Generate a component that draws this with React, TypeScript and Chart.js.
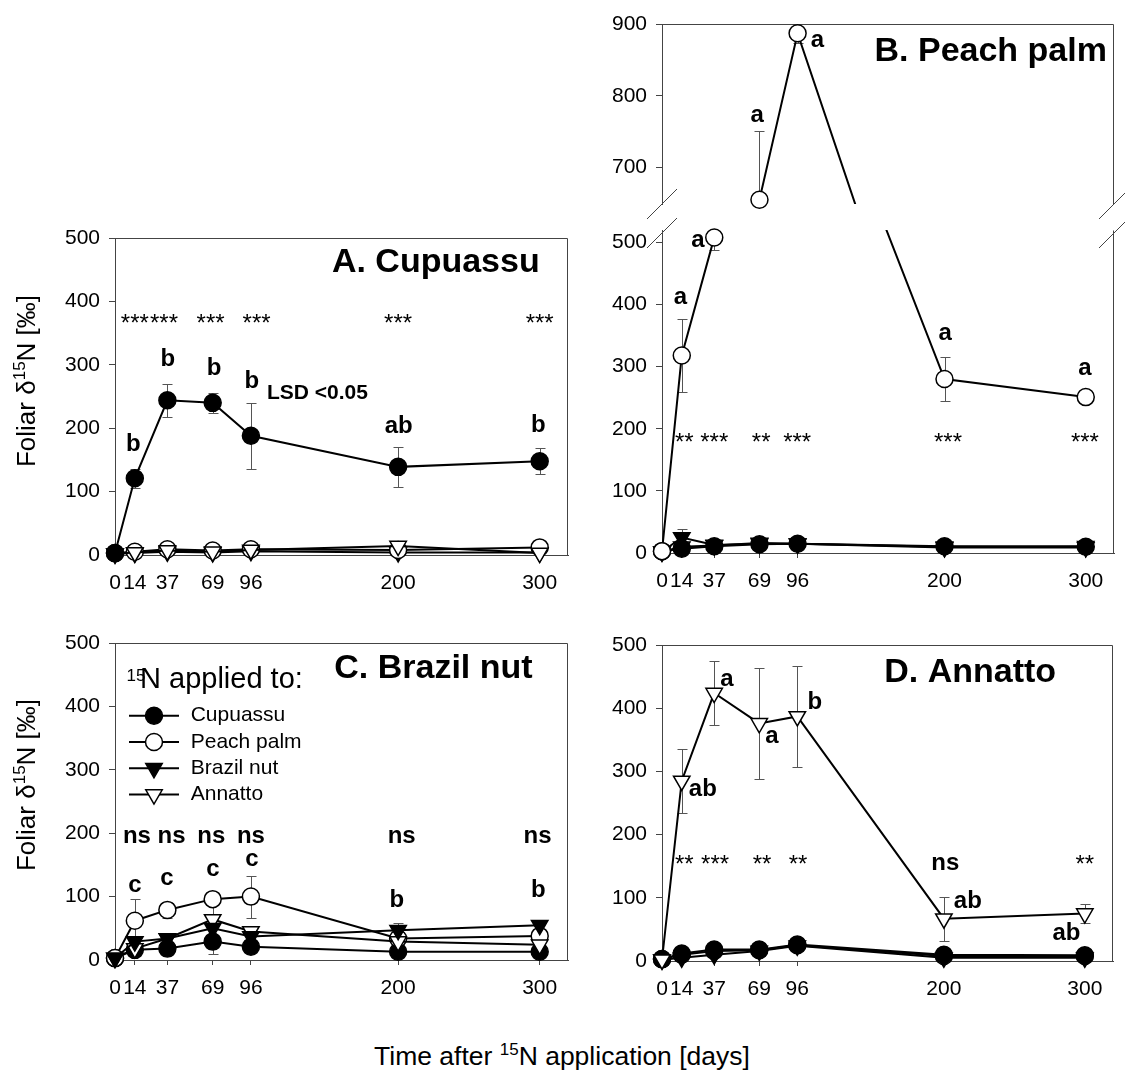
import React, { useEffect, useRef } from 'react';
import { Chart, registerables } from 'chart.js';

Chart.register(...registerables);

const FONT = '"Liberation Sans", Arial, Helvetica, sans-serif';

// ---------------- data ----------------
const days = [0, 14, 37, 69, 96, 200, 300];
const xTickValues = [0, 14, 37, 69, 96, 200, 300];
const yTickValues = [0, 100, 200, 300, 400, 500];
const yTickValuesBreakTop = [700, 800, 900];
const seriesNames = ['Cupuassu', 'Peach palm', 'Brazil nut', 'Annatto'];

const xRange = [0, 320];
const yRange = [0, 500];
const bLowerRange = [0, 520];
const bUpperRange = [649, 900];

// Panel A – Cupuassu leaves
const aCupuassu = [3, 121, 244, 240, 188, 139, 148];
const aCupuassuErr = [0, 15, 26, 16, 52, 31, 21];
const aPeach = [3, 5, 9, 7, 9, 8, 12];
const aBrazil = [2, 3, 5, 4, 6, 4, 4];
const aAnnatto = [2, 4, 7, 5, 8, 14, 3];

// Panel B – Peach palm leaves
const bCupuassu = [3, 7, 11, 14, 15, 11, 10];
const bPeach = [3, 318, 508, 655, 887, 280, 251];
const bPeachErr = [0, 58, 20, 96, 13, 35, 0];
const bBrazil = [2, 25, 13, 15, 15, 10, 11];
const bBrazilErr = [0, 13, 0, 0, 0, 0, 0];
const bAnnatto = [2, 10, 12, 16, 15, 9, 9];

// Panel C – Brazil nut leaves
const cCupuassu = [3, 16, 18, 29, 21, 13, 13];
const cCupuassuErr = [0, 0, 0, 20, 0, 0, 0];
const cPeach = [3, 62, 79, 96, 100, 34, 38];
const cPeachErr = [0, 34, 13, 0, 33, 0, 0];
const cBrazil = [3, 29, 34, 50, 37, 47, 55];
const cBrazilErr = [0, 0, 0, 0, 0, 12, 0];
const cAnnatto = [3, 18, 34, 64, 45, 29, 24];
const cAnnattoErr = [0, 0, 0, 28, 0, 0, 0];

// Panel D – Annatto leaves
const dCupuassu = [3, 12, 18, 18, 26, 10, 9];
const dPeach = [3, 10, 16, 17, 25, 8, 8];
const dBrazil = [2, 5, 10, 16, 24, 5, 5];
const dAnnatto = [2, 285, 424, 376, 387, 67, 75];
const dAnnattoErr = [0, 51, 50, 88, 80, 35, 15];

// annotations: [x (days), y (value), text, kind]
const annA = [
  [14, 371, '***', 'star'], [34.6, 371, '***', 'star'], [67.5, 371, '***', 'star'],
  [100, 371, '***', 'star'], [200, 371, '***', 'star'], [300, 371, '***', 'star'],
  [13, 174, 'b', 'letter'], [37.4, 308, 'b', 'letter'], [70, 295, 'b', 'letter'],
  [96.7, 274, 'b', 'letter'], [200.4, 203, 'ab', 'letter'], [299, 205, 'b', 'letter'],
  [143, 255, 'LSD <0.05', 'lsd'],
  [300, 460.5, 'A. Cupuassu', 'title'],
];
const annBUpper = [
  [67.4, 773, 'a', 'letter'], [110, 877, 'a', 'letter'],
  [315, 861, 'B. Peach palm', 'title'],
];
const annBLower = [
  [15.8, 185, '**', 'star'], [37, 185, '***', 'star'], [70.2, 185, '**', 'star'],
  [95.7, 185, '***', 'star'], [202.5, 185, '***', 'star'], [299.4, 185, '***', 'star'],
  [13, 411, 'a', 'letter'], [25.5, 503, 'a', 'letter'], [200.4, 353, 'a', 'letter'], [299.4, 297, 'a', 'letter'],
];
const annC = [
  [15.5, 195, 'ns', 'letter'], [40, 195, 'ns', 'letter'], [68, 195, 'ns', 'letter'],
  [96, 195, 'ns', 'letter'], [202.5, 195, 'ns', 'letter'], [298.5, 195, 'ns', 'letter'],
  [14.1, 117, 'c', 'letter'], [36.7, 129, 'c', 'letter'], [69.2, 143, 'c', 'letter'], [96.7, 158, 'c', 'letter'],
  [199, 94, 'b', 'letter'], [299, 110, 'b', 'letter'],
  [295, 460, 'C. Brazil nut', 'title'],
];
const annD = [
  [15.8, 160, '**', 'star'], [37.7, 160, '***', 'star'], [71, 160, '**', 'star'],
  [96.5, 160, '**', 'star'], [300, 160, '**', 'star'], [201, 155, 'ns', 'letter'],
  [29, 272, 'ab', 'letter'], [46, 445, 'a', 'letter'], [78, 355, 'a', 'letter'],
  [108.4, 410, 'b', 'letter'], [217, 95, 'ab', 'letter'], [287, 44, 'ab', 'letter'],
  [279.6, 457, 'D. Annatto', 'title'],
];

// ---------------- styles ----------------
const STYLE: any = {
  'Cupuassu': { pointStyle: 'circle', rotation: 0, fill: '#000', radius: 8.5 },
  'Peach palm': { pointStyle: 'circle', rotation: 0, fill: '#fff', radius: 8.5 },
  'Brazil nut': { pointStyle: 'triangle', rotation: 180, fill: '#000', radius: 9.5 },
  'Annatto': { pointStyle: 'triangle', rotation: 180, fill: '#fff', radius: 9.5 },
};
const KIND: any = {
  star: { font: `24px ${FONT}`, align: 'center', dy: 5 },
  letter: { font: `bold 24px ${FONT}`, align: 'center', dy: 0 },
  lsd: { font: `bold 21px ${FONT}`, align: 'center', dy: 0 },
  title: { font: `bold 34px ${FONT}`, align: 'right', dy: 0 },
};
const AXIS_COLOR = '#444';
const YW = 60;
const XH = 45;

function pts(vals: number[], errs?: number[] | null) {
  return vals.map((v, i) => ({ x: days[i], y: v, e: errs ? errs[i] : 0 }));
}

function ds(name: string, data: any[], order: number, extra: any = {}) {
  const s = STYLE[name];
  return {
    label: name,
    data,
    borderColor: '#000',
    borderWidth: 2,
    pointStyle: s.pointStyle,
    pointRotation: s.rotation,
    pointRadius: s.radius,
    pointHoverRadius: s.radius,
    pointBackgroundColor: s.fill,
    pointBorderColor: '#000',
    pointBorderWidth: 1.5,
    tension: 0,
    clip: false,
    order,
    ...extra,
  };
}

// ---------------- plugins ----------------
const errorBarPlugin = {
  id: 'errbars',
  beforeDatasetsDraw(chart: any) {
    const { ctx, chartArea: a } = chart;
    ctx.save();
    ctx.beginPath();
    ctx.rect(a.left - 6, a.top, a.right - a.left + 12, a.bottom - a.top);
    ctx.clip();
    ctx.strokeStyle = '#555';
    ctx.lineWidth = 1;
    chart.data.datasets.forEach((d: any, di: number) => {
      if (!chart.isDatasetVisible(di)) return;
      const meta = chart.getDatasetMeta(di);
      const xs = chart.scales[meta.xAxisID];
      const ys = chart.scales[meta.yAxisID];
      d.data.forEach((p: any) => {
        if (!p.e) return;
        const x = Math.round(xs.getPixelForValue(p.x)) + 0.5;
        const y1 = Math.round(ys.getPixelForValue(p.y + p.e)) + 0.5;
        const y2 = Math.round(ys.getPixelForValue(p.y - p.e)) + 0.5;
        ctx.beginPath();
        ctx.moveTo(x, y1); ctx.lineTo(x, y2);
        ctx.moveTo(x - 5, y1); ctx.lineTo(x + 5, y1);
        ctx.moveTo(x - 5, y2); ctx.lineTo(x + 5, y2);
        ctx.stroke();
      });
    });
    ctx.restore();
  },
};

function framePlugin(sides: string[]) {
  return {
    id: 'frame',
    beforeDatasetsDraw(chart: any) {
      const { ctx, chartArea: a } = chart;
      ctx.save();
      ctx.strokeStyle = AXIS_COLOR;
      ctx.lineWidth = 1;
      ctx.beginPath();
      const L = Math.round(a.left) - 0.5, R = Math.round(a.right) - 0.5;
      const T = Math.round(a.top) + 0.5, B = Math.round(a.bottom) - 0.5;
      if (sides.includes('top')) { ctx.moveTo(L, T); ctx.lineTo(R, T); }
      if (sides.includes('right')) { ctx.moveTo(R, T); ctx.lineTo(R, B + 1); }
      ctx.stroke();
      ctx.restore();
    },
  };
}

function breakPlugin(edge: 'top' | 'bottom') {
  return {
    id: 'breaks',
    afterDraw(chart: any) {
      const { ctx, chartArea: a } = chart;
      const y = edge === 'top' ? a.top + 3 : a.bottom;
      ctx.save();
      ctx.strokeStyle = AXIS_COLOR;
      ctx.lineWidth = 1;
      [a.left, a.right].forEach((x: number) => {
        ctx.beginPath();
        ctx.moveTo(x - 15, y + 15);
        ctx.lineTo(x + 15, y - 15);
        ctx.stroke();
      });
      ctx.restore();
    },
  };
}

function annotationPlugin(items: any[]) {
  return {
    id: 'annot',
    afterDraw(chart: any) {
      const { ctx } = chart;
      const xs = chart.scales.x, ys = chart.scales.y;
      ctx.save();
      ctx.fillStyle = '#000';
      ctx.textBaseline = 'middle';
      items.forEach(([x, y, text, kind]) => {
        const k = KIND[kind];
        ctx.font = k.font;
        ctx.textAlign = k.align;
        ctx.fillText(text, xs.getPixelForValue(x), ys.getPixelForValue(y) + k.dy);
      });
      ctx.restore();
    },
  };
}

function drawMarker(ctx: CanvasRenderingContext2D, name: string, x: number, y: number) {
  const s = STYLE[name];
  ctx.fillStyle = s.fill;
  ctx.strokeStyle = '#000';
  ctx.lineWidth = 1.5;
  ctx.beginPath();
  if (s.pointStyle === 'circle') {
    ctx.arc(x, y, s.radius, 0, Math.PI * 2);
  } else {
    let rad = (s.rotation * Math.PI) / 180;
    const r = s.radius;
    ctx.moveTo(x + Math.sin(rad) * r, y - Math.cos(rad) * r);
    rad += (2 * Math.PI) / 3;
    ctx.lineTo(x + Math.sin(rad) * r, y - Math.cos(rad) * r);
    rad += (2 * Math.PI) / 3;
    ctx.lineTo(x + Math.sin(rad) * r, y - Math.cos(rad) * r);
    ctx.closePath();
  }
  ctx.fill();
  ctx.stroke();
}

const legendPlugin = {
  id: 'customLegend',
  afterDraw(chart: any) {
    const { ctx, chartArea: a } = chart;
    ctx.save();
    ctx.fillStyle = '#000';
    ctx.textAlign = 'left';
    ctx.textBaseline = 'alphabetic';
    ctx.font = `17px ${FONT}`;
    ctx.fillText('15', a.left + 11.5, a.top + 37.5);
    ctx.font = `29px ${FONT}`;
    ctx.fillText('N applied to:', a.left + 25, a.top + 45);
    seriesNames.forEach((name, i) => {
      const y = a.top + 72.7 + i * 26.3;
      ctx.strokeStyle = '#000';
      ctx.lineWidth = 2;
      ctx.beginPath();
      ctx.moveTo(a.left + 14, y);
      ctx.lineTo(a.left + 64, y);
      ctx.stroke();
      drawMarker(ctx, name, a.left + 39, y);
      ctx.fillStyle = '#000';
      ctx.font = `21px ${FONT}`;
      ctx.textBaseline = 'middle';
      ctx.fillText(name, a.left + 75.7, y);
    });
    ctx.restore();
  },
};

// ---------------- chart builder ----------------
type Spec = {
  area: { l: number; t: number; r: number; b: number };
  canvas: { x: number; y: number; w: number; h: number };
  yRange: number[];
  yTicks: number[];
  showX: boolean;
  frame: string[];
  breakAt?: 'top' | 'bottom';
  datasets: any[];
  ann: any[];
  legend?: boolean;
};

function buildConfig(spec: Spec): any {
  const { area, canvas } = spec;
  const xh = spec.showX ? XH : 0;
  const padding = {
    left: area.l - canvas.x - YW,
    top: area.t - canvas.y,
    right: canvas.x + canvas.w - area.r,
    bottom: canvas.y + canvas.h - area.b - xh,
  };
  const plugins: any[] = [errorBarPlugin, framePlugin(spec.frame), annotationPlugin(spec.ann)];
  if (spec.breakAt) plugins.push(breakPlugin(spec.breakAt));
  if (spec.legend) plugins.push(legendPlugin);
  return {
    type: 'line',
    data: { datasets: spec.datasets },
    plugins,
    options: {
      responsive: false,
      animation: false,
      devicePixelRatio: 1,
      events: [],
      layout: { padding, autoPadding: false },
      plugins: { legend: { display: false }, tooltip: { enabled: false }, title: { display: false } },
      scales: {
        x: {
          type: 'linear',
          min: xRange[0],
          max: xRange[1],
          display: spec.showX,
          afterBuildTicks: (s: any) => { s.ticks = xTickValues.map((v) => ({ value: v })); },
          afterFit: (s: any) => { s.height = xh; s.paddingLeft = 0; s.paddingRight = 0; },
          ticks: { color: '#000', font: { family: FONT, size: 21 }, padding: 11, autoSkip: false, maxRotation: 0, minRotation: 0 },
          grid: { drawOnChartArea: false, drawTicks: true, tickLength: 5, color: AXIS_COLOR, lineWidth: 1 },
          border: { display: true, color: AXIS_COLOR, width: 1 },
        },
        y: {
          type: 'linear',
          min: spec.yRange[0],
          max: spec.yRange[1],
          afterBuildTicks: (s: any) => { s.ticks = spec.yTicks.map((v) => ({ value: v })); },
          afterFit: (s: any) => { s.width = YW; s.paddingTop = 0; s.paddingBottom = 0; },
          ticks: { color: '#000', font: { family: FONT, size: 21 }, padding: 9, autoSkip: false },
          grid: { drawOnChartArea: false, drawTicks: true, tickLength: 6, color: AXIS_COLOR, lineWidth: 1 },
          border: { display: true, color: AXIS_COLOR, width: 1 },
        },
      },
    },
  };
}

function ChartCanvas({ spec }: { spec: Spec }) {
  const ref = useRef<HTMLCanvasElement>(null);
  useEffect(() => {
    const chart = new Chart(ref.current as HTMLCanvasElement, buildConfig(spec));
    return () => chart.destroy();
  }, []);
  const c = spec.canvas;
  return (
    <canvas
      ref={ref}
      width={c.w}
      height={c.h}
      style={{ position: 'absolute', left: c.x, top: c.y, width: c.w, height: c.h }}
    />
  );
}

// ---------------- panels ----------------
const peachLineClipTop = { left: false, right: false, bottom: false, top: 0 };
const peachLineClipBottom = { left: false, right: false, top: false, bottom: 0 };

const specA: Spec = {
  area: { l: 115, t: 238, r: 568, b: 555 },
  canvas: { x: 35, y: 188, w: 573, h: 430 },
  yRange, yTicks: yTickValues, showX: true, frame: ['top', 'right'],
  datasets: [
    ds('Cupuassu', pts(aCupuassu, aCupuassuErr), 0),
    ds('Peach palm', pts(aPeach), 2),
    ds('Brazil nut', pts(aBrazil), 3),
    ds('Annatto', pts(aAnnatto), 1),
  ],
  ann: annA,
};

const specBUpper: Spec = {
  area: { l: 662, t: 24, r: 1114, b: 204 },
  canvas: { x: 582, y: 0, w: 543, h: 230 },
  yRange: bUpperRange, yTicks: yTickValuesBreakTop, showX: false, frame: ['top', 'right'], breakAt: 'bottom',
  datasets: [
    ds('Peach palm', pts(bPeach), 1, { pointRadius: 0, pointHoverRadius: 0, clip: peachLineClipBottom }),
    ds('Peach palm', pts(bPeach, bPeachErr).filter((p) => p.y >= bUpperRange[0]), 0, { showLine: false }),
  ],
  ann: annBUpper,
};

const specBLower: Spec = {
  area: { l: 662, t: 230, r: 1114, b: 553 },
  canvas: { x: 582, y: 190, w: 543, h: 430 },
  yRange: bLowerRange, yTicks: yTickValues, showX: true, frame: ['right'], breakAt: 'top',
  datasets: [
    ds('Cupuassu', pts(bCupuassu), 2),
    ds('Peach palm', pts(bPeach), 1, { pointRadius: 0, pointHoverRadius: 0, clip: peachLineClipTop }),
    ds('Peach palm', pts(bPeach, bPeachErr).filter((p) => p.y <= bLowerRange[1]), 0, { showLine: false }),
    ds('Brazil nut', pts(bBrazil, bBrazilErr), 3),
    ds('Annatto', pts(bAnnatto), 4),
  ],
  ann: annBLower,
};

const specC: Spec = {
  area: { l: 115, t: 643, r: 568, b: 960 },
  canvas: { x: 35, y: 600, w: 573, h: 430 },
  yRange, yTicks: yTickValues, showX: true, frame: ['top', 'right'], legend: true,
  datasets: [
    ds('Cupuassu', pts(cCupuassu, cCupuassuErr), 3),
    ds('Peach palm', pts(cPeach, cPeachErr), 2),
    ds('Brazil nut', pts(cBrazil, cBrazilErr), 0),
    ds('Annatto', pts(cAnnatto, cAnnattoErr), 1),
  ],
  ann: annC,
};

const specD: Spec = {
  area: { l: 662, t: 645, r: 1113, b: 961 },
  canvas: { x: 582, y: 600, w: 543, h: 430 },
  yRange, yTicks: yTickValues, showX: true, frame: ['top', 'right'],
  datasets: [
    ds('Cupuassu', pts(dCupuassu), 1),
    ds('Peach palm', pts(dPeach), 3),
    ds('Brazil nut', pts(dBrazil), 2),
    ds('Annatto', pts(dAnnatto, dAnnattoErr), 0),
  ],
  ann: annD,
};

const supStyle: React.CSSProperties = { fontSize: 17, position: 'relative', top: -10 };

function YTitle({ cx, cy }: { cx: number; cy: number }) {
  return (
    <div
      style={{
        position: 'absolute', left: cx, top: cy, transform: 'translate(-50%, -50%) rotate(-90deg)',
        font: `26px ${FONT}`, whiteSpace: 'nowrap', lineHeight: '30px', color: '#000',
      }}
    >
      Foliar δ<span style={supStyle}>15</span>N [‰]
    </div>
  );
}

export default function App() {
  return (
    <div style={{ position: 'absolute', left: 0, top: 0, width: 1125, height: 1079, background: '#fff', overflow: 'hidden' }}>
      <ChartCanvas spec={specA} />
      <ChartCanvas spec={specBLower} />
      <ChartCanvas spec={specBUpper} />
      <ChartCanvas spec={specC} />
      <ChartCanvas spec={specD} />
      <YTitle cx={28} cy={381} />
      <YTitle cx={28} cy={785} />
      <div
        style={{
          position: 'absolute', left: 562, top: 1058, transform: 'translate(-50%, -50%)',
          font: `26.5px ${FONT}`, whiteSpace: 'nowrap', lineHeight: '30px', color: '#000',
        }}
      >
        Time after <span style={supStyle}>15</span>N application [days]
      </div>
    </div>
  );
}
